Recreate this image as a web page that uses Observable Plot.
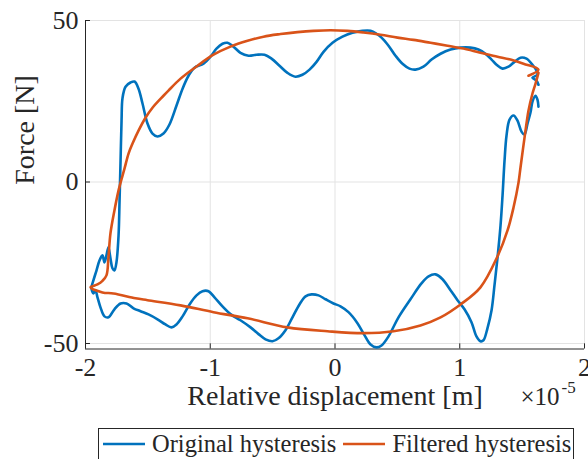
<!DOCTYPE html>
<html>
<head>
<meta charset="utf-8">
<script src="https://cdn.jsdelivr.net/npm/d3@7"></script>
<script src="https://cdn.jsdelivr.net/npm/@observablehq/plot@0.6"></script>
<style>
  html, body { margin: 0; padding: 0; background: #fff; }
  #wrap { position: relative; width: 588px; height: 459px; overflow: hidden; }
  #legend {
    position: absolute; left: 98px; top: 428px; width: 476px; height: 40px;
    box-sizing: border-box; border: 1px solid #262626; background: #fff;
    font-family: "Liberation Serif", serif; font-size: 24.5px; color: #262626;
    display: flex; align-items: flex-start; padding: 1px 0 0 4px;
  }
  #legend .item { display: flex; align-items: center; height: 28px; white-space: nowrap; }
  #legend svg { margin-right: 7px; }
  #legend .gap { width: 7px; }
</style>
</head>
<body>
<div id="wrap">
  <div id="chart"></div>
  <div id="legend"></div>
</div>
<script>
// Displacement in units of 1e-5 m, force in N.
const xTicks = [-2, -1, 0, 1, 2];
const yTicks = [-50, 0, 50];
const yMin = -51.7, yMax = 50;

// Original (unfiltered) hysteresis loop
const origDisp = [
  1.631, 1.623, 1.607, 1.583, 1.567, 1.543, 1.519, 1.495, 1.463, 1.431, 1.399, 1.375, 1.359, 1.343,
  1.327, 1.303, 1.279, 1.255, 1.222, 1.190, 1.166, 1.134, 1.094, 1.038, 0.982, 0.926, 0.862, 0.806,
  0.750, 0.693, 0.605, 0.509, 0.429, 0.373, 0.333, 0.285, 0.236, 0.180, 0.108, 0.044, -0.012, -0.076,
  -0.132, -0.188, -0.236, -0.285, -0.341, -0.397, -0.453, -0.501, -0.557, -0.613, -0.677, -0.758,
  -0.838, -0.902, -0.966, -1.014, -1.062, -1.110, -1.166, -1.222, -1.271, -1.311, -1.359, -1.423,
  -1.495, -1.559, -1.615, -1.671, -1.719, -1.768, -1.816, -1.848, -1.880, -1.904, -1.920, -1.936,
  -1.952, -1.936, -1.912, -1.888, -1.864, -1.848, -1.832, -1.816, -1.800, -1.784, -1.768, -1.752,
  -1.735, -1.727, -1.719, -1.711, -1.703, -1.679, -1.639, -1.607, -1.575, -1.543, -1.503, -1.463,
  -1.423, -1.375, -1.327, -1.271, -1.222, -1.174, -1.126, -1.054, -0.998, -0.950, -0.902, -0.862,
  -0.814, -0.758, -0.693, -0.629, -0.565, -0.509, -0.445, -0.381, -0.317, -0.261, -0.204, -0.148,
  -0.092, -0.020, 0.060, 0.140, 0.220, 0.285, 0.333, 0.373, 0.429, 0.485, 0.541, 0.597, 0.645, 0.709,
  0.774, 0.846, 0.926, 1.006, 1.086, 1.150, 1.206, 1.255, 1.295, 1.343, 1.391, 1.439, 1.487, 1.535,
  1.583, 1.615, 1.623, 1.583, 1.615, 1.631
];
const origForce = [
  23.3, 25.5, 26.7, 24.9, 21.5, 18.1, 14.7, 15.6, 19.0, 20.6, 19.3, 14.4, 6.6, -4.2,
  -13.4, -23.3, -31.8, -39.7, -45.3, -49.0, -49.3, -47.8, -43.4, -39.4, -36.6, -33.5, -30.1, -28.6,
  -29.2, -31.4, -36.3, -41.9, -47.8, -50.6, -51.2, -50.3, -47.4, -43.7, -40.3, -38.5, -37.6, -36.3,
  -35.1, -34.8, -35.4, -37.9, -41.9, -45.9, -48.4, -49.3, -48.7, -47.1, -45.0, -42.8,
  -40.9, -38.5, -35.7, -33.8, -33.8, -35.1, -37.9, -41.6, -44.1, -45.0, -44.1, -42.5,
  -41.0, -40.0, -39.1, -37.6, -37.6, -39.4, -41.9, -41.6, -38.8, -35.7, -33.5, -34.5,
  -32.9, -30.4, -27.4, -24.3, -22.7, -24.9, -22.7, -20.2, -23.6, -26.7, -27.4, -24.9,
  -16.5, -5.7, 6.6, 19.0, 26.1, 29.5, 30.8, 31.1, 28.9, 24.3, 18.1, 15.0,
  14.1, 15.0, 17.8, 23.6, 28.9, 32.9, 35.4, 36.6, 38.8, 41.3, 42.8, 43.1,
  41.9, 40.0, 39.1, 39.4, 39.4, 38.2, 36.0, 33.8, 32.6, 33.2, 34.8, 37.2,
  40.3, 43.1, 45.0, 46.2, 46.8, 46.8, 45.9, 44.7, 42.2, 39.1, 36.6, 35.1, 34.8, 35.7,
  37.9, 39.7, 41.0, 41.6, 41.6, 41.0, 39.7, 37.9, 36.3, 35.1, 35.7, 37.2, 38.5, 38.2,
  36.3, 34.5, 33.2, 32.3, 31.4, 30.1
];

// Filtered hysteresis loop
const filtDisp = [
  1.551, 1.631, 1.511, 1.407, 1.303, 1.166, 1.030, 0.902, 0.766, 0.629, 0.501, 0.365, 0.228, 0.100,
  -0.036, -0.172, -0.301, -0.437, -0.573, -0.701, -0.838, -0.974, -1.102, -1.238, -1.335, -1.375,
  -1.463, -1.519, -1.575, -1.623, -1.655, -1.687, -1.719, -1.735, -1.768, -1.800, -1.816, -1.832,
  -1.864, -1.904, -1.960, -1.864, -1.776, -1.599, -1.503, -1.238, -0.974, -0.701, -0.381, -0.060,
  0.228, 0.469, 0.685, 0.846, 1.006, 1.166, 1.303, 1.383, 1.431, 1.471, 1.487, 1.527, 1.551, 1.583,
  1.607, 1.631
];
const filtForce = [
  32.9, 34.8, 36.6, 37.9, 38.8, 40.0, 41.3, 42.2, 43.1, 44.0, 44.7, 45.6, 46.3, 46.8,
  47.0, 46.8, 46.4, 45.8, 45.0, 43.7, 41.9, 39.4, 36.0, 32.0, 28.3, 26.7,
  23.0, 19.9, 15.9, 11.9, 8.8, 4.2, -0.2, -2.6, -8.8, -15.9, -23.3, -28.9,
  -30.6, -31.7, -32.6, -34.2, -34.5, -36.0, -36.6, -38.2, -40.3, -42.2, -45.0, -46.2,
  -46.8, -46.2, -44.4, -41.9, -37.9, -32.6, -23.0, -15.0, -7.9, -0.2, 4.5, 15.9, 22.1, 27.4,
  30.4, 33.8
];

const seriesNames = ["Original hysteresis", "Filtered hysteresis"];
const seriesColors = ["#0072BD", "#D95319"];

const original = origDisp.map((x, i) => ({x, y: origForce[i]}));
const filtered = filtDisp.map((x, i) => ({x, y: filtForce[i]}));

const axisInk = "#262626";
const gridInk = "#e3e3e3";
const fmt = d => String(d);

const chart = Plot.plot({
  width: 588,
  height: 425,
  marginLeft: 85,
  marginRight: 4,
  marginTop: 20,
  marginBottom: 76.5,
  x: {domain: [-2, 2]},
  y: {domain: [yMin, yMax]},
  style: {fontFamily: "Liberation Serif, serif", fontSize: "26px", color: axisInk, background: "#fff"},
  marks: [
    Plot.gridX(xTicks, {stroke: gridInk, strokeOpacity: 1}),
    Plot.gridY(yTicks, {stroke: gridInk, strokeOpacity: 1}),
    // left and bottom axis lines
    Plot.ruleX([-2], {stroke: axisInk, strokeWidth: 1}),
    Plot.ruleY([yMin], {stroke: axisInk, strokeWidth: 1}),
    // inward tick marks
    Plot.ruleX(xTicks, {x: d => d, y1: yMin, y2: yMin + 1.6, stroke: axisInk}),
    Plot.ruleY(yTicks, {y: d => d, x1: -2, x2: -2 + 0.04, stroke: axisInk}),
    Plot.axisX(xTicks, {tickSize: 0, tickPadding: 9, tickFormat: fmt, label: null, fontSize: 26}),
    Plot.axisY(yTicks, {tickSize: 0, tickPadding: 7, tickFormat: fmt, label: null, fontSize: 26}),
    Plot.line(original, {x: "x", y: "y", stroke: seriesColors[0], strokeWidth: 2.6, curve: "catmull-rom", strokeLinejoin: "round"}),
    Plot.line(filtered, {x: "x", y: "y", stroke: seriesColors[1], strokeWidth: 2.6, curve: "catmull-rom", strokeLinejoin: "round"}),
    Plot.text(["Relative displacement [m]"], {frameAnchor: "bottom", dy: 56, text: d => d, fontSize: 28, fill: axisInk}),
    Plot.text(["Force [N]"], {frameAnchor: "left", dx: -60, rotate: -90, text: d => d, fontSize: 28, fill: axisInk}),
    // axis exponent: ×10 with a raised -5
    Plot.text(["\u00d710"], {frameAnchor: "bottom-right", dx: -64, dy: 56, textAnchor: "start", text: d => d, fontSize: 25, fill: axisInk}),
    Plot.text(["-5"], {frameAnchor: "bottom-right", dx: -23, dy: 44, textAnchor: "start", text: d => d, fontSize: 17, fill: axisInk})
  ]
});
document.getElementById("chart").appendChild(chart);

// Legend below the chart
const legend = d3.select("#legend");
seriesNames.forEach((name, i) => {
  if (i > 0) legend.append("div").attr("class", "gap");
  const item = legend.append("div").attr("class", "item");
  const svg = item.append("svg").attr("width", 42).attr("height", 6);
  svg.append("line").attr("x1", 0).attr("x2", 42).attr("y1", 3).attr("y2", 3)
    .attr("stroke", seriesColors[i]).attr("stroke-width", 2.6);
  item.append("span").text(name);
});
</script>
</body>
</html>
